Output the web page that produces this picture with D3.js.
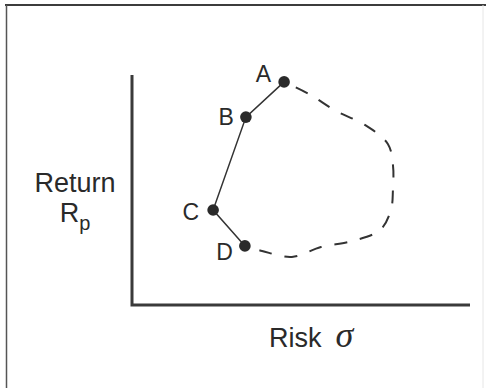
<!DOCTYPE html>
<html>
<head>
<meta charset="utf-8">
<script src="https://cdn.jsdelivr.net/npm/d3@7/dist/d3.min.js"></script>
<style>
  body { margin: 0; background: #fff; }
  svg { display: block; }
  .axis-line { stroke: #3a3a3a; stroke-width: 3; fill: none; }
  .frontier { stroke: #333; stroke-width: 1.5; fill: none; }
  .feasible { stroke: #333; stroke-width: 2; fill: none; stroke-dasharray: 13 13; stroke-dashoffset: 13; }
  .dot { fill: #2a2a2a; }
  text { font-family: "Liberation Sans", Arial, Helvetica, sans-serif; fill: #2a2a2a; }
</style>
</head>
<body>
<div id="chart"></div>
<script>
// portfolios on the efficient frontier (risk, return), axis units 0..100
var names = ["A", "B", "C", "D"];
var risk = [45.0, 33.7, 24.0, 33.4];
var ret = [97.0, 81.7, 41.3, 25.7];

// outer edge of the feasible set, from A round to D
var edgeRisk = [45.0, 52.4, 60.4, 68.9, 75.7, 77.2, 77.2, 76.6, 73.4, 65.1, 55.9, 47.3, 38.5, 33.4];
var edgeRet = [97.0, 91.7, 84.3, 78.3, 70.0, 60.9, 50.0, 41.3, 32.6, 27.8, 25.2, 20.9, 23.5, 25.7];

var width = 486;
var height = 388;
var margins = { top: 75, right: 16, bottom: 83, left: 132 };

var chartWidth = width - margins.left - margins.right;
var chartHeight = height - margins.top - margins.bottom;

var xScale = d3.scaleLinear().domain([0, 100]).range([0, chartWidth]);
var yScale = d3.scaleLinear().domain([0, 100]).range([chartHeight, 0]);

var svg = d3.select("#chart")
  .append("svg")
  .attr("width", width)
  .attr("height", height);

// scanned frame
svg.append("line").attr("x1", 5).attr("x2", 486).attr("y1", 5).attr("y2", 5)
  .attr("stroke", "#3c3c3c").attr("stroke-width", 2);
svg.append("line").attr("x1", 6.5).attr("x2", 6.5).attr("y1", 5).attr("y2", 388)
  .attr("stroke", "#555").attr("stroke-width", 1.5);
svg.append("line").attr("x1", 483).attr("x2", 483).attr("y1", 5).attr("y2", 388)
  .attr("stroke", "#e6e6e6").attr("stroke-width", 1);

var chart = svg.append("g")
  .attr("transform", `translate(${margins.left},${margins.top})`);

// L-shaped axes, no ticks
chart.append("path")
  .attr("class", "axis-line")
  .attr("d", `M0,0V${chartHeight}H${xScale(100)}`);

var points = names.map((n, i) => ({ name: n, x: risk[i], y: ret[i] }));
var edge = edgeRisk.map((r, i) => ({ x: r, y: edgeRet[i] }));

var edgeLine = d3.line()
  .x(d => xScale(d.x))
  .y(d => yScale(d.y))
  .curve(d3.curveCatmullRom.alpha(0.5));

chart.append("path")
  .datum(edge)
  .attr("class", "feasible")
  .attr("d", edgeLine);

var line = d3.line()
  .x(d => xScale(d.x))
  .y(d => yScale(d.y));

chart.append("path")
  .datum(points)
  .attr("class", "frontier")
  .attr("d", line);

chart.selectAll(".dot")
  .data(points)
  .enter()
  .append("circle")
  .attr("class", "dot")
  .attr("cx", d => xScale(d.x))
  .attr("cy", d => yScale(d.y))
  .attr("r", 5.8);

// label nudges, left of each dot
var labelOffset = { A: [-13, 0], B: [-12, 8], C: [-14, 10], D: [-12, 14] };

chart.selectAll(".label")
  .data(points)
  .enter()
  .append("text")
  .attr("class", "label")
  .attr("x", d => xScale(d.x) + labelOffset[d.name][0])
  .attr("y", d => yScale(d.y) + labelOffset[d.name][1])
  .attr("text-anchor", "end")
  .style("font-size", "23px")
  .text(d => d.name);

// axis titles
svg.append("text")
  .attr("x", 75)
  .attr("y", 192)
  .attr("text-anchor", "middle")
  .style("font-size", "27px")
  .text("Return");

var rp = svg.append("text")
  .attr("x", 75)
  .attr("y", 222)
  .attr("text-anchor", "middle")
  .style("font-size", "27px");
rp.append("tspan").text("R");
rp.append("tspan").attr("dy", 8).style("font-size", "20px").text("p");

var rs = svg.append("text")
  .attr("x", 269)
  .attr("y", 347)
  .style("font-size", "27px");
rs.append("tspan").text("Risk");
rs.append("tspan")
  .attr("dx", 14)
  .style("font-family", "'Liberation Serif', 'Times New Roman', serif")
  .style("font-style", "italic")
  .style("font-size", "36px")
  .text("σ");
</script>
</body>
</html>
